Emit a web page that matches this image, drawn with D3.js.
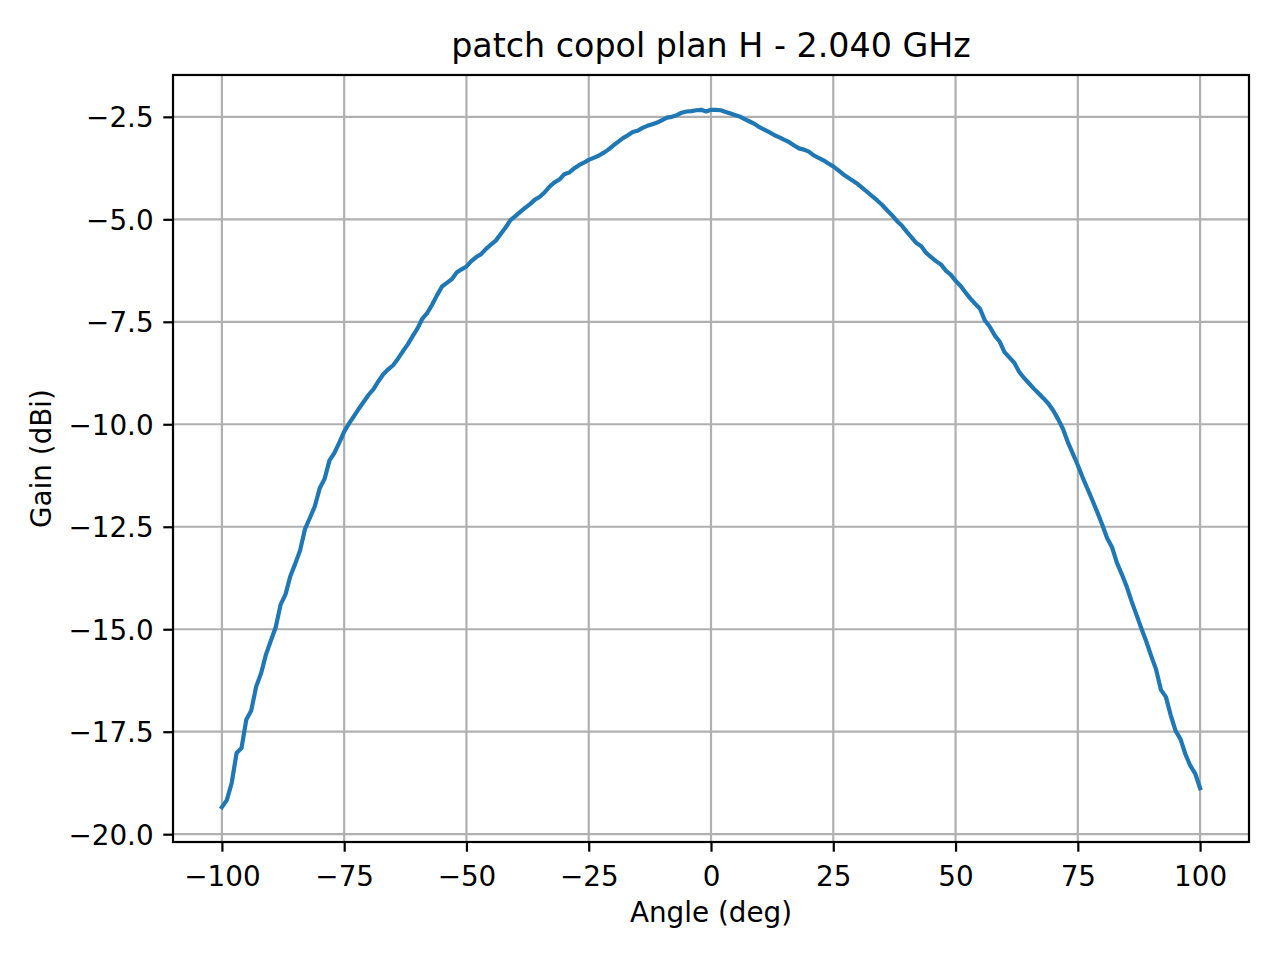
<!DOCTYPE html>
<html>
<head>
<meta charset="utf-8">
<script src="https://cdn.jsdelivr.net/npm/d3@7"></script>
<style>
    body { margin: 0; background: #fff; }
    svg { display: block; font-family: "DejaVu Sans", sans-serif; }
</style>
</head>
<body>
<div id="chart"></div>
<script>
// measured gain pattern, one sample per degree
const angles = d3.range(-100, 101, 1)

const gainLeft = [
    -19.34, -19.17, -18.75, -18.02, -17.90, -17.20, -16.98, -16.40, -16.08, -15.62,
    -15.28, -14.95, -14.40, -14.15, -13.70, -13.40, -13.07, -12.55, -12.28, -12.00,
    -11.56, -11.33, -10.88, -10.70, -10.45, -10.18, -9.98, -9.80, -9.62, -9.45,
    -9.28, -9.14, -8.95, -8.78, -8.66, -8.56, -8.40, -8.22, -8.05, -7.85,
    -7.66, -7.42, -7.28, -7.08, -6.85, -6.64, -6.55, -6.46, -6.30, -6.22,
    -6.15, -6.02, -5.92, -5.85, -5.72, -5.62, -5.52, -5.36, -5.20, -5.02,
    -4.92, -4.82, -4.72, -4.63, -4.52, -4.45, -4.34, -4.20, -4.10, -4.03,
    -3.90, -3.86, -3.76, -3.68, -3.62, -3.55, -3.50, -3.45, -3.38, -3.30,
    -3.20, -3.11, -3.02, -2.95, -2.87, -2.84, -2.77, -2.72, -2.68, -2.64,
    -2.58, -2.52, -2.50, -2.46, -2.40, -2.37, -2.36, -2.34, -2.33, -2.37
]
const gainRight = [
    -2.33, -2.33, -2.34, -2.38, -2.42, -2.46, -2.50, -2.56, -2.62, -2.68,
    -2.76, -2.82, -2.88, -2.95, -3.00, -3.06, -3.12, -3.20, -3.27, -3.30,
    -3.35, -3.44, -3.50, -3.56, -3.64, -3.71, -3.80, -3.90, -3.98, -4.06,
    -4.14, -4.24, -4.34, -4.44, -4.54, -4.65, -4.78, -4.90, -5.04, -5.15,
    -5.30, -5.44, -5.58, -5.66, -5.82, -5.92, -6.02, -6.10, -6.25, -6.35,
    -6.50, -6.62, -6.78, -6.93, -7.06, -7.18, -7.47, -7.62, -7.83, -7.98,
    -8.24, -8.37, -8.50, -8.72, -8.87, -9.00, -9.13, -9.25, -9.37, -9.50,
    -9.67, -9.88, -10.12, -10.45, -10.72, -11.00, -11.30, -11.58, -11.86, -12.15,
    -12.45, -12.78, -13.00, -13.38, -13.66, -13.96, -14.32, -14.65, -14.98, -15.30,
    -15.65, -15.98, -16.48, -16.65, -17.10, -17.48, -17.68, -18.05, -18.33, -18.52,
    -18.88
]
const gain = gainLeft.concat(gainRight)

const xTicks = [-100, -75, -50, -25, 0, 25, 50, 75, 100]
const yTicks = [-20, -17.5, -15, -12.5, -10, -7.5, -5, -2.5]

const title = 'patch copol plan H - 2.040 GHz'
const xLabel = 'Angle (deg)'
const yLabel = 'Gain (dBi)'

const width = 1280, height = 960
const plot = { left: 173, right: 1249, top: 75, bottom: 842 }
const tickLen = 9.7, tickPad = 9.7

const minus = s => s.replace('-', '\u2212')

const svg = d3.select('#chart').append('svg')
    .attr('width', width)
    .attr('height', height)

// matplotlib style 5% margins
const xExt = d3.extent(angles), yExt = d3.extent(gain)
const xPad = (xExt[1] - xExt[0]) * 0.05, yPad = (yExt[1] - yExt[0]) * 0.05

const x = d3.scaleLinear()
    .domain([xExt[0] - xPad, xExt[1] + xPad])
    .range([plot.left, plot.right])

const y = d3.scaleLinear()
    .domain([yExt[0] - yPad, yExt[1] + yPad])
    .range([plot.bottom, plot.top])

// grid
const grid = svg.append('g').attr('stroke', '#b0b0b0').attr('stroke-width', 2.2)

grid.selectAll('.vgrid')
    .data(xTicks)
    .join('line')
    .attr('x1', d => x(d)).attr('x2', d => x(d))
    .attr('y1', plot.top).attr('y2', plot.bottom)

grid.selectAll('.hgrid')
    .data(yTicks)
    .join('line')
    .attr('class', 'hgrid')
    .attr('x1', plot.left).attr('x2', plot.right)
    .attr('y1', d => y(d)).attr('y2', d => y(d))

// curve
const line = d3.line()
    .x((d, i) => x(angles[i]))
    .y(d => y(d))

svg.append('path')
    .datum(gain)
    .attr('d', line)
    .attr('fill', 'none')
    .attr('stroke', '#1f77b4')
    .attr('stroke-width', 4.2)
    .attr('stroke-linejoin', 'round')
    .attr('stroke-linecap', 'square')

// axes
const xAxis = d3.axisBottom(x)
    .tickValues(xTicks)
    .tickSize(tickLen)
    .tickPadding(tickPad)
    .tickFormat(d => minus(d3.format('d')(d)))

const yAxis = d3.axisLeft(y)
    .tickValues(yTicks)
    .tickSize(tickLen)
    .tickPadding(tickPad)
    .tickFormat(d => minus(d3.format('.1f')(d)))

const gx = svg.append('g')
    .attr('transform', `translate(0,${plot.bottom})`)
    .call(xAxis)

const gy = svg.append('g')
    .attr('transform', `translate(${plot.left},0)`)
    .call(yAxis)

;[gx, gy].forEach(g => {
    g.select('.domain').remove()
    g.selectAll('.tick line').attr('stroke', '#000').attr('stroke-width', 2.2)
    g.selectAll('.tick text')
        .attr('fill', '#000')
        .style('font-size', '27.8px')
        .style('font-family', '"DejaVu Sans", sans-serif')
})

gx.selectAll('.tick text').attr('dy', null).attr('y', 44)
gy.selectAll('.tick text').attr('dy', null).attr('y', 10)

// frame
svg.append('rect')
    .attr('x', plot.left).attr('y', plot.top)
    .attr('width', plot.right - plot.left)
    .attr('height', plot.bottom - plot.top)
    .attr('fill', 'none')
    .attr('stroke', '#000')
    .attr('stroke-width', 2.2)

// labels
svg.append('text')
    .attr('x', (plot.left + plot.right) / 2)
    .attr('y', 57)
    .attr('text-anchor', 'middle')
    .style('font-size', '33.3px')
    .text(title)

svg.append('text')
    .attr('x', (plot.left + plot.right) / 2)
    .attr('y', 922)
    .attr('text-anchor', 'middle')
    .style('font-size', '27.8px')
    .text(xLabel)

svg.append('text')
    .attr('transform', `translate(51,${(plot.top + plot.bottom) / 2}) rotate(-90)`)
    .attr('text-anchor', 'middle')
    .style('font-size', '27.8px')
    .text(yLabel)
</script>
</body>
</html>
